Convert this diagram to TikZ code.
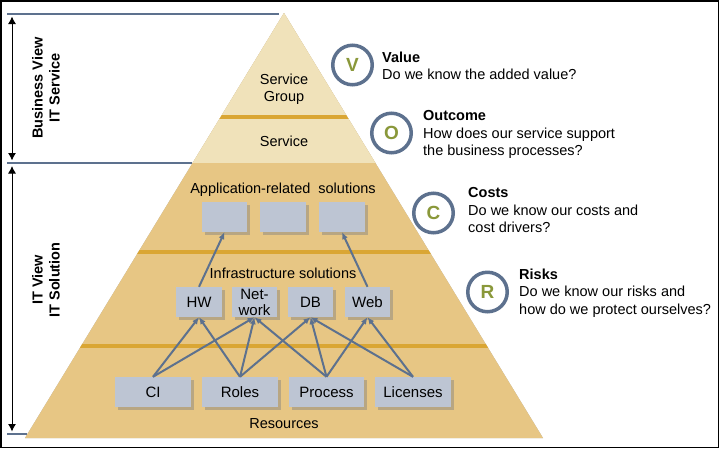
\documentclass[tikz,border=0pt]{standalone}
\usepackage{fontspec}
\setmainfont{Liberation Sans}
\usetikzlibrary{arrows.meta,shadows}
\definecolor{lightpy}{RGB}{240,226,186}
\definecolor{darkpy}{RGB}{231,198,132}
\definecolor{goldline}{RGB}{218,166,52}
\definecolor{boxc}{RGB}{189,197,211}
\definecolor{slate}{RGB}{93,113,142}
\definecolor{olivec}{RGB}{138,152,58}
\tikzset{
  txt/.style={font=\fontsize{14.5}{17.5}\selectfont, inner sep=0pt},
  boxn/.style={fill=boxc, inner sep=0pt, minimum height=30pt,
    font=\fontsize{15}{16}\selectfont, align=center,
    drop shadow={shadow xshift=2.5pt,shadow yshift=-2.5pt,opacity=0.45}},
  dep/.style={draw=slate, line width=2pt, -{Latex[length=7pt,width=6pt]}},
  grayline/.style={draw=slate, line width=2.6pt},
  goldl/.style={draw=goldline, line width=3.5pt},
  dimarrow/.style={draw=black, line width=1pt, {Latex[length=7.5pt,width=8pt]}-{Latex[length=7.5pt,width=8pt]}},
  ring/.style={circle, draw=slate, line width=3.5pt, fill=white, minimum size=39.5pt,
    inner sep=0pt, text=olivec, font=\bfseries\fontsize{19}{19}\selectfont},
  side/.style={font=\bfseries\fontsize{14.5}{17}\selectfont, rotate=90, align=center, inner sep=0pt},
  q/.style={font=\fontsize{14.5}{17.5}\selectfont, align=left, inner sep=0pt, anchor=base west}
}
\begin{document}
\begin{tikzpicture}[x=1pt,y=-1pt]
\useasboundingbox (0,0) rectangle (719,448);
\fill[white] (0,0) rectangle (719,448);
\draw[line width=1.5pt] (0.75,0.75) rectangle (718.25,447.25);

% pyramid
\coordinate (apex) at (284,13);
\coordinate (bl) at (25,438);
\coordinate (br) at (543,438);
\fill[black, opacity=0.12, xshift=4.5pt, yshift=-4pt] (apex)--(bl)--(br)--cycle;
\fill[black, opacity=0.22, xshift=2.5pt, yshift=-2pt] (apex)--(bl)--(br)--cycle;
\begin{scope}
  \clip (apex)--(bl)--(br)--cycle;
  \fill[darkpy] (0,0) rectangle (719,448);
  \fill[lightpy] (0,0) rectangle (719,163);
  \draw[goldl] (0,117) -- (719,117);
  \draw[goldl] (0,252) -- (719,252);
  \draw[goldl] (0,346) -- (719,346);
\end{scope}

% left grey lines and dimension arrows
\draw[grayline] (7,14) -- (279,14);
\draw[grayline] (7,163) -- (192,163);
\draw[grayline] (7,434) -- (27,434);
\coordinate (bt) at (12,16.5);
\coordinate (bb) at (12,160.5);
\coordinate (it) at (12,166);
\coordinate (ib) at (12,431.5);
\draw[dimarrow] (bt) -- (bb);
\draw[dimarrow] (it) -- (ib);
\node[side] (bview) at (46,88) {Business View\\IT Service};
\node[side] (iview) at (46,280) {IT View\\IT Solution};

% pyramid labels
\node[txt, align=center, anchor=base] (sgroup) at (284,101.7) {Service\\Group};
\node[txt, anchor=base] (serv) at (284,146.5) {Service};
\node[txt, anchor=base] (appl) at (283,193) {Application-related\ \ solutions};
\node[txt, anchor=base] (infra) at (283,278) {Infrastructure solutions};
\node[txt, anchor=base] (res) at (284,428) {Resources};

% boxes
\node[boxn, minimum width=45pt] (a1) at (224.5,217) {};
\node[boxn, minimum width=46pt] (a2) at (283,217) {};
\node[boxn, minimum width=46pt] (a3) at (342,217) {};
\node[boxn, minimum width=46pt] (hw) at (199,302) {HW};
\node[boxn, minimum width=45pt] (nw) at (254.5,302) {Net-\\work};
\node[boxn, minimum width=45pt] (db) at (310.5,302) {DB};
\node[boxn, minimum width=45pt] (web) at (367.5,302) {Web};
\node[boxn, minimum width=76pt] (ci) at (153,392) {CI};
\node[boxn, minimum width=76pt] (roles) at (240,392) {Roles};
\node[boxn, minimum width=75pt] (proc) at (326.5,392) {Process};
\node[boxn, minimum width=76pt] (lic) at (413,392) {Licenses};

% dependencies
\draw[dep] (hw.north) -- (a1.south);
\draw[dep] (web.north) -- (a3.south);
\draw[dep] (ci.north) -- (hw.south);
\draw[dep] (ci.north) -- (nw.south);
\draw[dep] (roles.north) -- (hw.south);
\draw[dep] (roles.north) -- (nw.south);
\draw[dep] (roles.north) -- (db.south);
\draw[dep] (proc.north) -- (nw.south);
\draw[dep] (proc.north) -- (db.south);
\draw[dep] (proc.north) -- (web.south);
\draw[dep] (lic.north) -- (db.south);
\draw[dep] (lic.north) -- (web.south);

% right side questions
\node[ring] (cv) at (352.5,65) {V};
\node[ring] (co) at (391.5,133) {O};
\node[ring] (cc) at (433.5,213) {C};
\node[ring] (cr) at (487.5,292) {R};
\node[q] (tv) at (382,79.5) {\textbf{Value}\\Do we know the added value?};
\node[q] (to) at (423,155.5) {\textbf{Outcome}\\How does our service support\\the business processes?};
\node[q] (tc) at (468,232.5) {\textbf{Costs}\\Do we know our costs and\\cost drivers?};
\node[q] (tr) at (519,314) {\textbf{Risks}\\Do we know our risks and\\how do we protect ourselves?};
\end{tikzpicture}
\end{document}
